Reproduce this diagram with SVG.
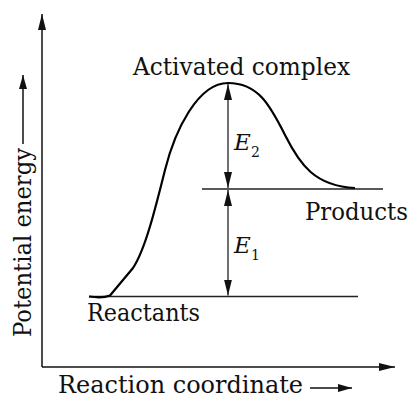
<svg xmlns="http://www.w3.org/2000/svg" width="413" height="399" viewBox="0 0 413 399">
<style>
text{fill:#111;font-family:'DejaVu Serif','Liberation Serif',serif}
.t{font-size:24px}
.e{font-style:italic;font-size:23px}
.s{font-size:14px}
.ax{stroke:#111;stroke-width:1.5;fill:none}
.ln{stroke:#222;stroke-width:1.3;fill:none}
</style>
<defs>
<marker id="ah" viewBox="0 0 16 8" refX="16" refY="4" markerWidth="16" markerHeight="8" markerUnits="userSpaceOnUse" orient="auto-start-reverse">
<path d="M0,0 L16,4 L0,8 Z" fill="#111"/>
</marker>
<marker id="ah2" viewBox="0 0 14 8" refX="14" refY="4" markerWidth="14" markerHeight="8" markerUnits="userSpaceOnUse" orient="auto-start-reverse">
<path d="M0,0 L14,4 L0,8 Z" fill="#111"/>
</marker>
</defs>
<g id="axes">
<line class="ax" x1="42" y1="367" x2="42" y2="14" marker-end="url(#ah)"/>
<line class="ax" x1="42" y1="367" x2="395" y2="367" marker-end="url(#ah)"/>
</g>
<g id="levels">
<line class="ln" x1="202" y1="189" x2="383" y2="189"/>
<line class="ln" x1="89" y1="296.5" x2="358" y2="296.5"/>
</g>
<g id="curve">
<path d="M89,296.5 C96,297.5 104,298 110,295.5 L133,268 C145,250 155,210 165,170 C175,130 198,83 228,83 C258,83 270,105 285,135 C300,165 315,186 355,188" fill="none" stroke="#000" stroke-width="2.2"/>
</g>
<g id="connectors">
<line class="ln" x1="228" y1="84" x2="228" y2="188" marker-start="url(#ah)" marker-end="url(#ah)"/>
<line class="ln" x1="228" y1="190" x2="228" y2="295.5" marker-start="url(#ah)" marker-end="url(#ah)"/>
<line class="ax" x1="23" y1="144" x2="23" y2="75" stroke-width="1.3" marker-end="url(#ah2)"/>
<line class="ax" x1="310" y1="388" x2="352" y2="388" stroke-width="1.3" marker-end="url(#ah2)"/>
</g>
<g id="activated-complex"><text class="t" x="133" y="75" textLength="217" lengthAdjust="spacingAndGlyphs">Activated complex</text></g>
<g id="products"><text class="t" x="305" y="220" textLength="103" lengthAdjust="spacingAndGlyphs">Products</text></g>
<g id="reactants"><text class="t" x="87" y="321" textLength="113" lengthAdjust="spacingAndGlyphs">Reactants</text></g>
<g id="e2"><text class="e" x="234" y="150">E</text><text class="s" x="251" y="157">2</text></g>
<g id="e1"><text class="e" x="234" y="253">E</text><text class="s" x="251" y="260">1</text></g>
<g id="x-label"><text class="t" x="58" y="393" textLength="245" lengthAdjust="spacingAndGlyphs">Reaction coordinate</text></g>
<g id="y-label"><text class="t" transform="translate(31,337) rotate(-90)" x="0" y="0" textLength="189" lengthAdjust="spacingAndGlyphs">Potential energy</text></g>
</svg>
